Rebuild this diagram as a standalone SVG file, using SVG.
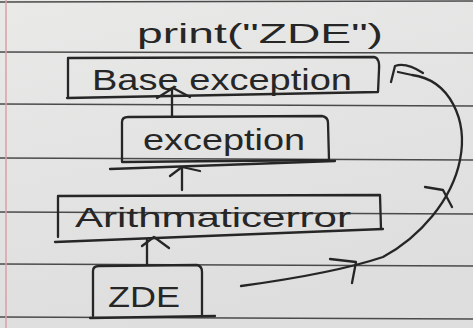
<svg xmlns="http://www.w3.org/2000/svg" width="473" height="328" viewBox="0 0 473 328">
<defs>
<linearGradient id="paper" x1="0" y1="0" x2="0.3" y2="1">
<stop offset="0" stop-color="#e9e9e8"/>
<stop offset="1" stop-color="#dedede"/>
</linearGradient>
</defs>
<style>
.rule{stroke:#4a4a4a;stroke-width:1.3;fill:none}
.ink{stroke:#262626;stroke-width:2.3;fill:none;stroke-linecap:round;stroke-linejoin:round}
.txt{font-family:"Liberation Sans","DejaVu Sans",sans-serif;fill:#262626}
</style>
<rect width="473" height="328" fill="url(#paper)"/>
<g id="paper-lines">
<line class="rule" x1="0" y1="2" x2="473" y2="1"/>
<line class="rule" x1="0" y1="52" x2="473" y2="53"/>
<line class="rule" x1="0" y1="104" x2="473" y2="106"/>
<line class="rule" x1="0" y1="158" x2="473" y2="160"/>
<line class="rule" x1="0" y1="212" x2="473" y2="214"/>
<line class="rule" x1="0" y1="264" x2="473" y2="266"/>
<line class="rule" x1="0" y1="317" x2="473" y2="319"/>
<line x1="6" y1="0" x2="6" y2="328" stroke="#d9a0a8" stroke-width="1.5"/>
</g>
<text class="txt" x="260" y="43" font-size="28" text-anchor="middle" textLength="246" lengthAdjust="spacingAndGlyphs">print("ZDE")</text>
<g id="base-exception">
<path class="ink" d="M68,98 L68,58 L374,57 Q380,58 379,70 L378,92 L67,98"/>
<text class="txt" x="222" y="90" font-size="30" text-anchor="middle" textLength="260" lengthAdjust="spacingAndGlyphs">Base exception</text>
</g>
<g id="exception">
<path class="ink" d="M122,162 L122,122 Q122,117 128,117 L322,116 Q328,117 328,123 L329,160 L122,162"/>
<path class="ink" d="M110,169 L335,161"/>
<text class="txt" x="224" y="150" font-size="30" text-anchor="middle" textLength="162" lengthAdjust="spacingAndGlyphs">exception</text>
</g>
<g id="arithmaticerror">
<path class="ink" d="M58,237 L58,196 L380,195 L381,229"/>
<path class="ink" d="M55,242 L383,229"/>
<text class="txt" x="213" y="227" font-size="27" text-anchor="middle" textLength="276" lengthAdjust="spacingAndGlyphs">Arithmaticerror</text>
</g>
<g id="zde">
<path class="ink" d="M93,316 L93,271 Q93,266 99,266 L197,265 Q202,266 202,272 L202,315"/>
<path class="ink" d="M90,318 L215,316"/>
<text class="txt" x="144" y="307" font-size="30" text-anchor="middle" textLength="72" lengthAdjust="spacingAndGlyphs">ZDE</text>
</g>
<g id="connectors">
<path class="ink" d="M147,264 L147,240"/>
<path class="ink" d="M142,246 L154,237 L169,248"/>
<path class="ink" d="M182,190 L182,168"/>
<path class="ink" d="M170,176 L182,167 L200,171"/>
<path class="ink" d="M172,117 L172,89"/>
<path class="ink" d="M157,98 L173,88 L190,97"/>
<path class="ink" d="M241,286 C300,278 350,268 383,257 C420,237 452,200 460,160 C468,120 450,80 412,75 L398,72"/>
<path class="ink" d="M423,73 Q406,62 395,66 L391,82"/>
<path class="ink" d="M330,259 L356,262 L352,283"/>
<path class="ink" d="M425,187 L443,190 L452,207"/>
</g>
</svg>
